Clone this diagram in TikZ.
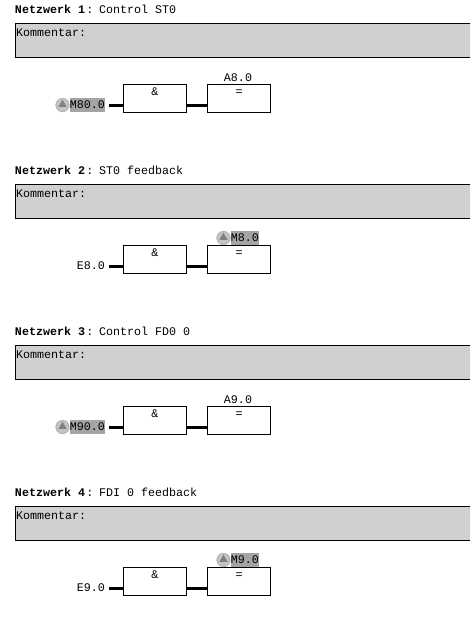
\documentclass[tikz,border=0pt]{standalone}
\usepackage{fontspec}
\setmainfont{Liberation Mono}
\usetikzlibrary{shapes.geometric}
\definecolor{commentgray}{HTML}{D0D0D0}
\definecolor{markgray}{HTML}{A4A4A4}
\definecolor{icongray}{HTML}{C4C4C4}
\definecolor{ringgray}{HTML}{B4B4B4}
\definecolor{tridark}{HTML}{808080}
\tikzset{
    base/.style={inner sep=0pt, outer sep=0pt, font=\fontsize{8.3pt}{10pt}\selectfont},
    title/.style={base, anchor=west},
    commentbox/.style={draw=black, line width=0.7pt, fill=commentgray, anchor=north west, minimum width=12cm, minimum height=0.85cm, outer sep=0pt},
    commenttext/.style={base, anchor=west},
    gatebox/.style={draw=black, line width=0.7pt, fill=white, minimum width=1.575cm, minimum height=0.7cm, outer sep=0pt},
    gatetext/.style={base},
    signal/.style={base, anchor=east},
    marked/.style={signal, fill=markgray, minimum height=0.35cm},
    iconring/.style={circle, draw=ringgray, line width=0.7pt, fill=icongray, minimum size=0.33cm, inner sep=0pt},
    icontri/.style={regular polygon, regular polygon sides=3, fill=tridark, minimum size=0.24cm, inner sep=0pt},
    wire/.style={line width=1.9pt}
}
\newcommand{\nettitle}[2]{\textbf{Netzwerk #1}\hspace{1pt}:\hspace{4pt}#2}
\begin{document}
\begin{tikzpicture}[x=0.025cm, y=-0.025cm]
    \clip (0,0) rectangle (470,620);

    % Network 1
    \node[title] (titleA) at (15,9) {\nettitle{1}{Control ST0}};
    \node[commentbox] (commentA) at (15,23) {};
    \node[commenttext] (commentTextA) at (16,33) {Kommentar:};
    \node[gatebox] (andA) at (154.5,98) {};
    \node[gatetext] (andTextA) at (155,92) {\&};
    \node[gatebox] (setA) at (238.5,98) {};
    \node[gatetext] (setTextA) at (239,92.5) {=};
    \node[marked] (inA) at (105,105) {M80.0};
    \node[iconring] (iconA) at (62.5,105) {};
    \node[icontri] (triA) at (62.5,104.5) {};
    \node[gatetext] (outA) at (238,78) {A8.0};
    \coordinate (wireA) at (0,105.5);
    \draw[wire, shorten <=2.8pt] (inA.east |- wireA) -- (andA.west |- wireA);
    \draw[wire] (andA.east |- wireA) -- (setA.west |- wireA);

    % Network 2
    \node[title] (titleB) at (15,170) {\nettitle{2}{ST0 feedback}};
    \node[commentbox] (commentB) at (15,184) {};
    \node[commenttext] (commentTextB) at (16,194) {Kommentar:};
    \node[gatebox] (andB) at (154.5,259) {};
    \node[gatetext] (andTextB) at (155,253) {\&};
    \node[gatebox] (setB) at (238.5,259) {};
    \node[gatetext] (setTextB) at (239,253.5) {=};
    \node[signal] (inB) at (105,266) {E8.0};
    \node[marked] (outB) at (259,238) {M8.0};
    \node[iconring] (iconB) at (223.5,238) {};
    \node[icontri] (triB) at (223.5,237.5) {};
    \coordinate (wireB) at (0,266.5);
    \draw[wire, shorten <=2.8pt] (inB.east |- wireB) -- (andB.west |- wireB);
    \draw[wire] (andB.east |- wireB) -- (setB.west |- wireB);

    % Network 3
    \node[title] (titleC) at (15,331) {\nettitle{3}{Control FD0 0}};
    \node[commentbox] (commentC) at (15,345) {};
    \node[commenttext] (commentTextC) at (16,355) {Kommentar:};
    \node[gatebox] (andC) at (154.5,420) {};
    \node[gatetext] (andTextC) at (155,414) {\&};
    \node[gatebox] (setC) at (238.5,420) {};
    \node[gatetext] (setTextC) at (239,414.5) {=};
    \node[marked] (inC) at (105,427) {M90.0};
    \node[iconring] (iconC) at (62.5,427) {};
    \node[icontri] (triC) at (62.5,426.5) {};
    \node[gatetext] (outC) at (238,400) {A9.0};
    \coordinate (wireC) at (0,427.5);
    \draw[wire, shorten <=2.8pt] (inC.east |- wireC) -- (andC.west |- wireC);
    \draw[wire] (andC.east |- wireC) -- (setC.west |- wireC);

    % Network 4
    \node[title] (titleD) at (15,492) {\nettitle{4}{FDI 0 feedback}};
    \node[commentbox] (commentD) at (15,506) {};
    \node[commenttext] (commentTextD) at (16,516) {Kommentar:};
    \node[gatebox] (andD) at (154.5,581) {};
    \node[gatetext] (andTextD) at (155,575) {\&};
    \node[gatebox] (setD) at (238.5,581) {};
    \node[gatetext] (setTextD) at (239,575.5) {=};
    \node[signal] (inD) at (105,588) {E9.0};
    \node[marked] (outD) at (259,560) {M9.0};
    \node[iconring] (iconD) at (223.5,560) {};
    \node[icontri] (triD) at (223.5,559.5) {};
    \coordinate (wireD) at (0,588.5);
    \draw[wire, shorten <=2.8pt] (inD.east |- wireD) -- (andD.west |- wireD);
    \draw[wire] (andD.east |- wireD) -- (setD.west |- wireD);
\end{tikzpicture}
\end{document}
